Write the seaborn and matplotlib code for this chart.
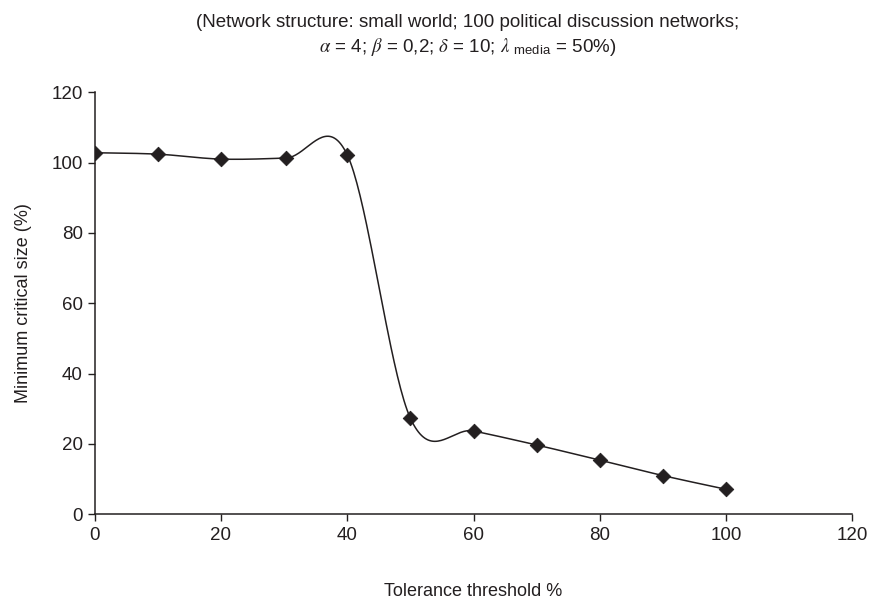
import numpy as np
import pandas as pd
import matplotlib
matplotlib.use("Agg")
import matplotlib.pyplot as plt
import seaborn as sns

# --- Data ---
tolerance = [0, 10, 20, 30.3, 40, 50, 60, 70, 80, 90, 100]
critical_size = [102.8, 102.4, 101.0, 101.3, 102.2, 27.3, 23.7, 19.7, 15.4, 11.0, 7.1]
x_ticks = [0, 20, 40, 60, 80, 100, 120]
y_ticks = [0, 20, 40, 60, 80, 100, 120]

TITLE = ("(Network structure: small world; 100 political discussion networks;\n"
         r"$\alpha$ = 4; $\beta$ = 0,2; $\delta$ = 10; $\lambda\ _{\mathsf{media}}$ = 50%)")


def smooth_curve(x, y, n=40, y_scale=0.553):
    """Catmull-Rom smoothing through the points (like a spreadsheet 'smoothed line')."""
    pts = np.column_stack([np.asarray(x, float), np.asarray(y, float) * y_scale])
    padded = np.vstack([pts[0], pts, pts[-1]])
    out = []
    t = np.linspace(0, 1, n)[:, None]
    for i in range(1, len(padded) - 2):
        p0, p1, p2, p3 = padded[i - 1], padded[i], padded[i + 1], padded[i + 2]
        m1 = (p2 - p0) / 2
        m2 = (p3 - p1) / 2
        h00 = 2 * t**3 - 3 * t**2 + 1
        h10 = t**3 - 2 * t**2 + t
        h01 = -2 * t**3 + 3 * t**2
        h11 = t**3 - t**2
        seg = h00 * p1 + h10 * m1 + h01 * p2 + h11 * m2
        out.append(seg if i == 1 else seg[1:])
    out = np.vstack(out)
    return out[:, 0], out[:, 1] / y_scale


sns.set_theme(style="ticks")
plt.rcParams["font.family"] = ["Liberation Sans", "DejaVu Sans"]
plt.rcParams["mathtext.fontset"] = "custom"
plt.rcParams["mathtext.it"] = "STIXGeneral:italic"
plt.rcParams["mathtext.rm"] = "Liberation Sans"
plt.rcParams["mathtext.sf"] = "Liberation Sans"

ink = "#231f20"
fig = plt.figure(figsize=(8.71, 5.98), dpi=100)
ax = fig.add_axes([0.1087, 0.140, 0.870, 0.7057])

df = pd.DataFrame({"tolerance": tolerance, "size": critical_size})
sx, sy = smooth_curve(tolerance, critical_size)
curve = pd.DataFrame({"tolerance": sx, "size": sy})

sns.lineplot(data=curve, x="tolerance", y="size", ax=ax, color=ink, linewidth=1.1,
             sort=False, estimator=None)
sns.scatterplot(data=df, x="tolerance", y="size", ax=ax, marker="D", s=55,
                color=ink, edgecolor=ink, zorder=3)

ax.set_xlim(0, 120)
ax.set_ylim(0, 120)
ax.set_xticks(x_ticks)
ax.set_yticks(y_ticks)
ax.tick_params(axis="both", labelsize=13.5, colors=ink, length=5, width=1, direction="out")
ax.tick_params(axis="x", pad=4)
for side in ["top", "right"]:
    ax.spines[side].set_visible(False)
for side in ["left", "bottom"]:
    ax.spines[side].set_color(ink)
    ax.spines[side].set_linewidth(1.1)

ax.set_xlabel("Tolerance threshold %", fontsize=13, color=ink, labelpad=28)
ax.set_ylabel("Minimum critical size (%)", fontsize=13, color=ink, labelpad=14)
fig.text(0.537, 0.94, TITLE, ha="center", va="center", fontsize=13.5, color=ink,
         linespacing=1.35)

fig.savefig("out.png", dpi=100)
